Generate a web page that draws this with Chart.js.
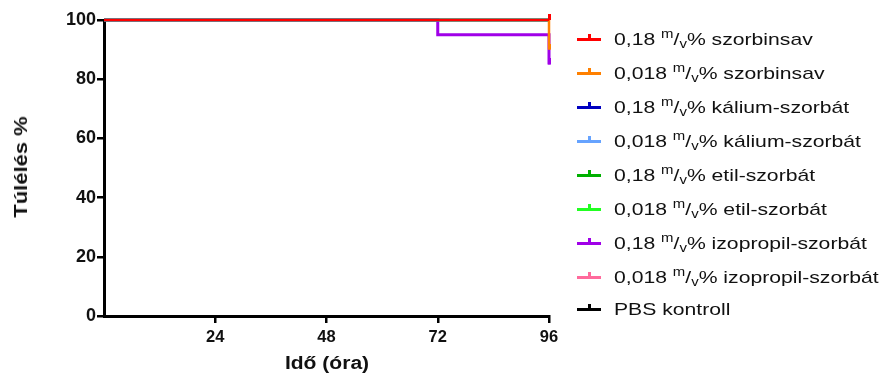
<!DOCTYPE html>
<html>
<head>
<meta charset="utf-8">
<script src="https://cdn.jsdelivr.net/npm/chart.js@4"></script>
<style>
  html, body { margin: 0; padding: 0; background: #fff; }
  #wrap { position: relative; width: 882px; height: 376px; overflow: hidden; }
  #chart { position: absolute; left: 0; top: 0; }
  #legend { position: absolute; left: 577px; top: 0; font-family: "Liberation Sans", Arial, sans-serif; font-size: 17px; color: #111; }
  .row { position: absolute; left: 0; white-space: nowrap; height: 20px; }
  .sym { position: absolute; left: 0; top: 8px; width: 24px; height: 3px; }
  .sym i { position: absolute; left: 11px; top: -4px; width: 2.5px; height: 5px; }
  .txt { position: absolute; left: 37px; top: 0; line-height: 20px; transform: scaleX(1.245); transform-origin: 0 50%; }
  .txt sup { font-size: 12px; vertical-align: 7px; line-height: 0; }
  .txt sub { font-size: 12px; vertical-align: -3px; line-height: 0; }
  .atitle { position: absolute; font-family: "Liberation Sans", Arial, sans-serif; font-weight: bold; font-size: 18px; color: #111; white-space: nowrap; line-height: 20px; }
  #xtitle { left: 327px; top: 353px; transform: translateX(-50%) scaleX(1.17); }
  #ytitle { left: 21px; top: 167px; transform: translate(-50%, -50%) rotate(-90deg) scaleX(1.22); }
</style>
</head>
<body>
<div id="wrap">
  <canvas id="chart" width="882" height="376"></canvas>
  <div id="legend"></div>
  <div class="atitle" id="xtitle">Idő (óra)</div>
  <div class="atitle" id="ytitle">Túlélés %</div>
</div>
<script>
// ---- data ----
const seriesNames = [
  ["0,18", "szorbinsav"],
  ["0,018", "szorbinsav"],
  ["0,18", "kálium-szorbát"],
  ["0,018", "kálium-szorbát"],
  ["0,18", "etil-szorbát"],
  ["0,018", "etil-szorbát"],
  ["0,18", "izopropil-szorbát"],
  ["0,018", "izopropil-szorbát"],
  [null, "PBS kontroll"]
];
const seriesColors = ["#ff0000", "#ff8000", "#0000c0", "#66a3ff", "#00b000", "#22ff22", "#a000e8", "#ff6a9c", "#000000"];
// survival step times (hours) and survival (%) per series
const seriesTimes = [
  [0, 96], [0, 96], [0, 96], [0, 96], [0, 96], [0, 96], [0, 72, 96], [0, 96], [0, 96]
];
const seriesSurvival = [
  [100, 100], [100, 90], [100, 100], [100, 100], [100, 100], [100, 100], [100, 95, 85], [100, 100], [100, 100]
];
const xTicks = [24, 48, 72, 96];
const yTicks = [0, 20, 40, 60, 80, 100];

// ---- censor tick images (upward tick) ----
function tickImage(color) {
  const c = document.createElement('canvas');
  c.width = 3; c.height = 12;
  const g = c.getContext('2d');
  g.fillStyle = color;
  g.fillRect(0, 0, 3, 6);
  return c;
}

const datasets = seriesTimes.map((ts, i) => {
  const pts = ts.map((t, j) => ({ x: t, y: seriesSurvival[i][j] }));
  const img = tickImage(seriesColors[i]);
  return {
    label: (seriesNames[i][0] ? seriesNames[i][0] + " m/v% " : "") + seriesNames[i][1],
    data: pts,
    borderColor: seriesColors[i],
    backgroundColor: seriesColors[i],
    borderWidth: i === 0 ? 2 : (i === 6 ? 3 : 2.5),
    stepped: true,
    fill: false,
    clip: false,
    pointStyle: img,
    pointRadius: (ctx) => ctx.dataIndex === pts.length - 1 ? 5 : 0,
    pointHoverRadius: 0
  };
});

const xFont = { family: "'Liberation Sans', Arial, sans-serif", weight: 'bold', size: 16.5 };
const yFont = { family: "'Liberation Sans', Arial, sans-serif", weight: 'bold', size: 18 };

new Chart(document.getElementById('chart'), {
  type: 'line',
  data: { datasets },
  options: {
    responsive: false,
    animation: false,
    events: [],
    layout: { padding: { left: 0, right: 333, top: 20, bottom: 0 } },
    plugins: { legend: { display: false }, tooltip: { enabled: false } },
    scales: {
      x: {
        type: 'linear', min: 0, max: 96,
        afterBuildTicks: (s) => { s.ticks = xTicks.map(v => ({ value: v })); },
        afterFit: (s) => { s.height = 60; },
        grid: { drawOnChartArea: false, drawTicks: true, tickLength: 7, color: '#000', lineWidth: 2.5 },
        border: { display: true, color: '#000', width: 3 },
        ticks: { color: '#111', font: xFont, padding: 5, maxRotation: 0 },
        title: { display: false }
      },
      y: {
        type: 'linear', min: 0, max: 100,
        afterBuildTicks: (s) => { s.ticks = yTicks.map(v => ({ value: v })); },
        afterFit: (s) => { s.width = 104; },
        grid: { drawOnChartArea: false, drawTicks: true, tickLength: 7, color: '#000', lineWidth: 2.5 },
        border: { display: true, color: '#000', width: 3 },
        ticks: { color: '#111', font: yFont, padding: 1 },
        title: { display: false }
      }
    }
  }
});

// ---- HTML legend ----
const legendRowsY = [30, 64, 98, 132, 166, 200, 234, 268, 300];
const legend = document.getElementById('legend');
seriesNames.forEach((n, i) => {
  const row = document.createElement('div');
  row.className = 'row';
  row.style.top = legendRowsY[i] + 'px';
  const sym = document.createElement('div');
  sym.className = 'sym';
  sym.style.background = seriesColors[i];
  const tk = document.createElement('i');
  tk.style.background = seriesColors[i];
  sym.appendChild(tk);
  const txt = document.createElement('div');
  txt.className = 'txt';
  if (n[0]) {
    txt.innerHTML = n[0] + ' <sup>m</sup>/<sub>v</sub>% ' + n[1];
  } else {
    txt.textContent = n[1];
  }
  row.appendChild(sym);
  row.appendChild(txt);
  legend.appendChild(row);
});
</script>
</body>
</html>
